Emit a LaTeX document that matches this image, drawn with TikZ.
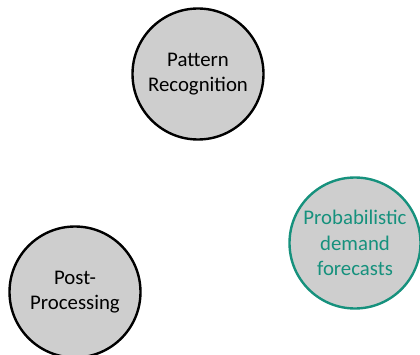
\documentclass[tikz,border=0pt]{standalone}
\usepackage{fontspec}
\setmainfont{Carlito}
\definecolor{teal1}{RGB}{22,145,125}
\definecolor{fillg}{RGB}{206,206,206}
\begin{document}
\begin{tikzpicture}[x=1pt,y=1pt,
  bubble/.style={circle,draw=black,fill=fillg,line width=2.4pt,minimum size=131pt,inner sep=0pt,align=center,font=\fontsize{20.8}{25.5}\selectfont},
  bubbleteal/.style={bubble,draw=teal1,text=teal1}]
\useasboundingbox (0,0) rectangle (420,354);
\node[bubble] (pr) at (198,280) {Pattern\\Recognition};
\node[bubbleteal] (pd) at (355,111) {Probabilistic\\demand\\forecasts};
\node[bubble] (pp) at (75,62) {Post-\\Processing};
\end{tikzpicture}
\end{document}
